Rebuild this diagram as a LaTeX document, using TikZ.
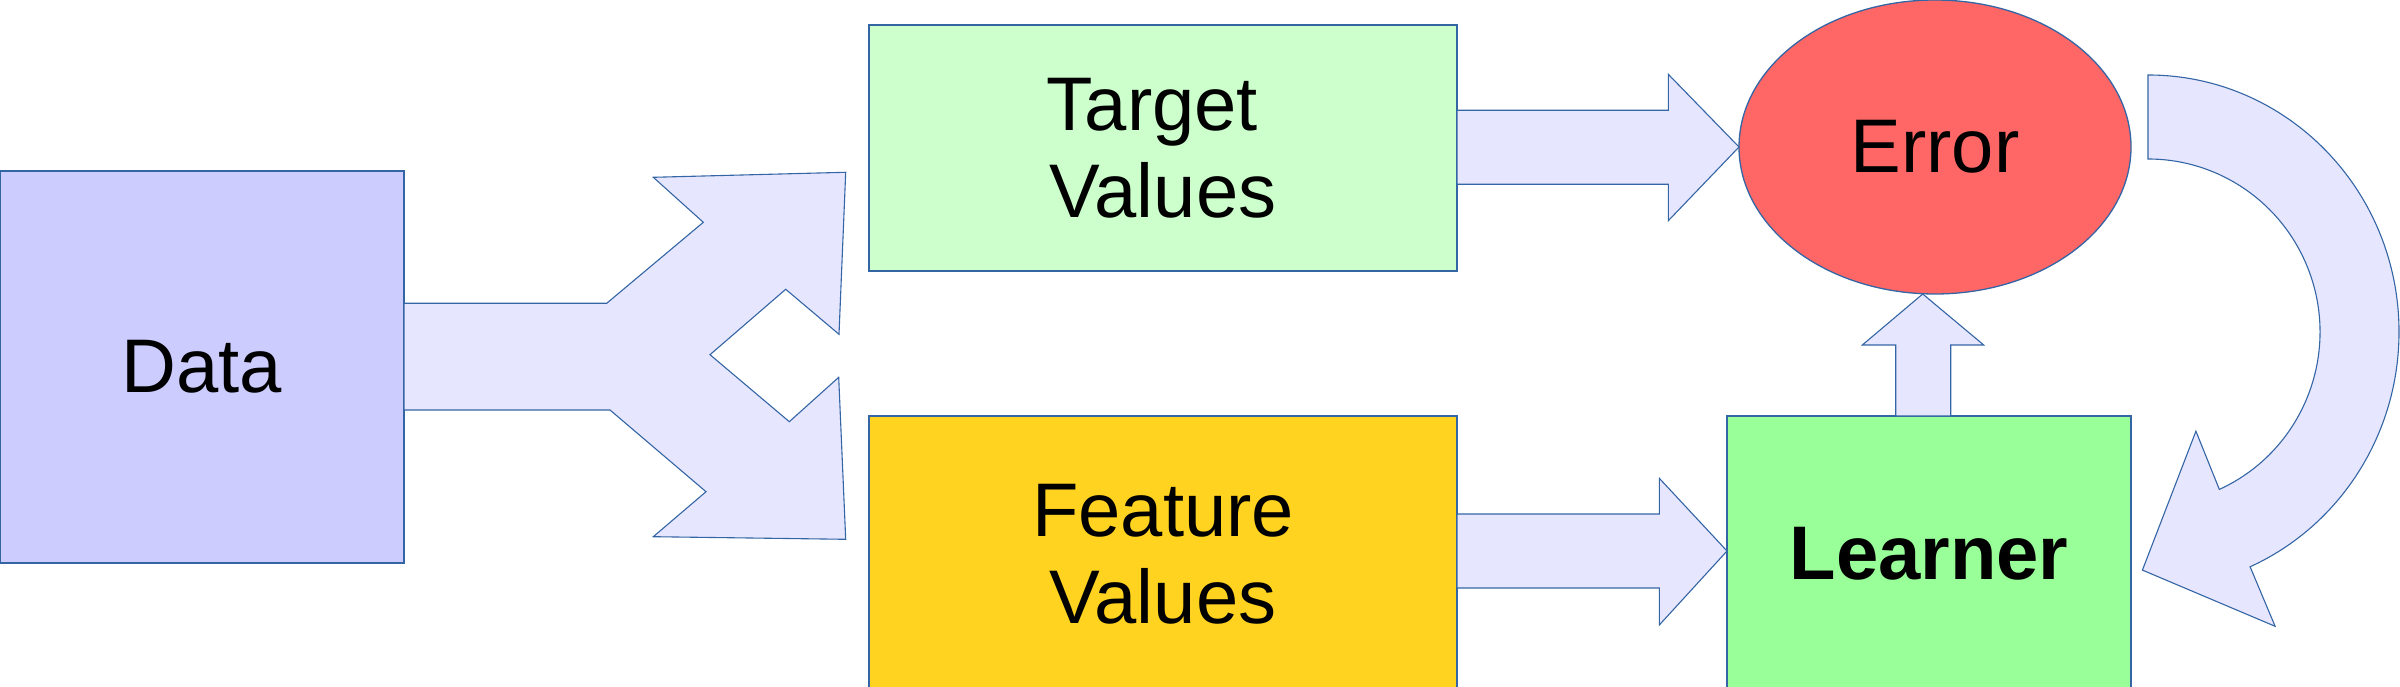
\documentclass[tikz,border=0pt]{standalone}
\usepackage{fontspec}
\setmainfont{Liberation Sans}
\usetikzlibrary{shapes.geometric,calc}
\definecolor{edge}{HTML}{3465A4}
\definecolor{datafill}{HTML}{CCCCFF}
\definecolor{targetfill}{HTML}{CCFFCC}
\definecolor{featurefill}{HTML}{FFD320}
\definecolor{learnerfill}{HTML}{99FF99}
\definecolor{errorfill}{HTML}{FF6666}
\definecolor{arrowfill}{HTML}{E6E6FF}
\begin{document}
\begin{tikzpicture}[x=1pt,y=1pt,
  box/.style={draw=edge, line width=1.3pt, rectangle, inner sep=0pt, outer sep=0pt,
    align=center, font=\fontsize{76}{87}\selectfont},
  blockarrow/.style={draw=edge, fill=arrowfill, line width=1.1pt, line join=miter}]
\useasboundingbox (0,0) rectangle (2400,686);
% boxes
\node[box, fill=datafill, minimum width=404pt, minimum height=392pt] (data) at (202,319) {Data};
\node[box, fill=targetfill, minimum width=588pt, minimum height=246pt] (target) at (1163,538) {Target\hspace*{0.278em}\\Values};
\node[box, fill=featurefill, minimum width=588pt, minimum height=276pt] (feature) at (1163,132) {Feature\\Values};
\node[box, fill=learnerfill, minimum width=404pt, minimum height=276pt] (learner) at (1929,132) {\bfseries Learner};
\node[box, ellipse, fill=errorfill, minimum width=392pt, minimum height=294pt] (error) at (1935,539) {Error};
% split arrow Data -> Target / Feature
\draw[blockarrow] ($(data.east)+(0,63.7)$) -- (606.7,382.7) -- (703.3,463.7) -- (653.3,508.7)
  -- (845.7,513.7) -- (839,351.7) -- (785.7,396.7) -- (710,331.3) -- (789.3,264.3)
  -- (838.7,308.7) -- (845.7,146.7) -- (653.3,149.3) -- (706,194.3) -- (610,276)
  -- ($(data.east)+(0,-43)$) -- cycle;
% Target -> Error
\draw[blockarrow] (target.east |- 0,575.7) -- (1668.3,575.7) -- (1668.3,611.7) -- (error.west)
  -- (1668.3,465.3) -- (1668.3,501.7) -- (target.east |- 0,501.7) -- cycle;
% Feature -> Learner
\draw[blockarrow] (feature.east |- 0,172) -- (1659.3,172) -- (1659.3,207.7) -- (learner.west |- 0,135)
  -- (1659.3,61) -- (1659.3,98) -- (feature.east |- 0,98) -- cycle;
% Learner -> Error
\draw[blockarrow] (1895.7,0 |- learner.north) -- (1895.7,341) -- (1862.3,341) -- (error.south -| 1922.7,0)
  -- (1983.7,341) -- (1950.7,341) -- (1950.7,0 |- learner.north) -- cycle;
% Error -> Learner curved arrow
\coordinate (cc) at (2148,354);
\draw[blockarrow] ($(cc)+(90:251 and 257)$) arc[start angle=90, end angle=-66, x radius=251, y radius=257]
  -- (2275.1,59.7) -- (2142.4,115.9) -- (2195.9,254.8) -- ($(cc)+(-65.5:172 and 173)$)
  arc[start angle=-65.5, end angle=90, x radius=172, y radius=173] -- cycle;
\end{tikzpicture}
\end{document}
